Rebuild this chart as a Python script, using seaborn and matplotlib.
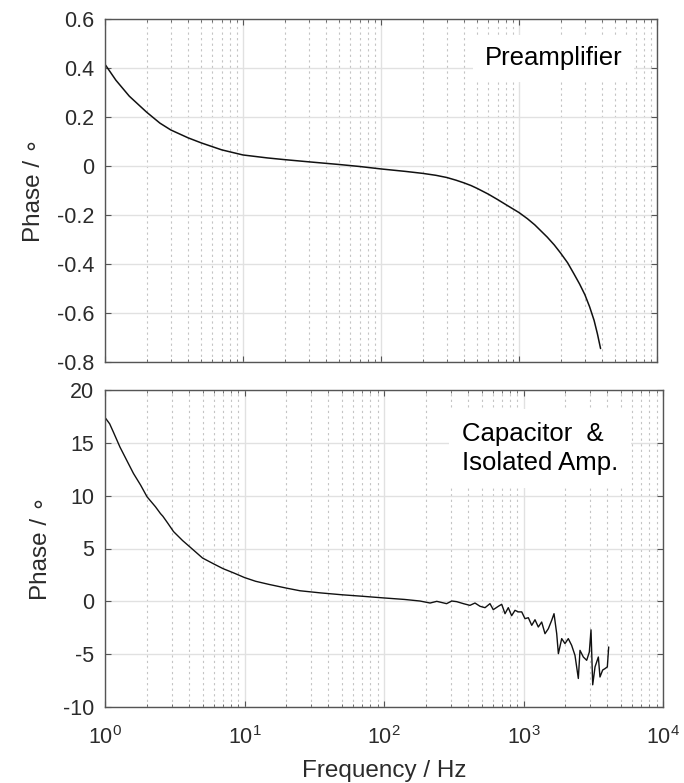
import numpy as np
import pandas as pd
import matplotlib
matplotlib.use("Agg")
import matplotlib.pyplot as plt
import matplotlib.ticker as mticker
import seaborn as sns

# ---- data ----
pre_freq = [1, 1.2, 1.5, 2, 2.5, 3, 4, 5, 7, 10, 15, 20, 30, 50, 70, 100, 150,
            200, 250, 300, 350, 400, 450, 500, 600, 700, 800, 1000, 1150, 1300,
            1600, 1800, 2000, 2250, 2500, 2750, 3000, 3250, 3500, 3700, 3900]
pre_phase = [0.415, 0.35, 0.285, 0.22, 0.175, 0.147, 0.115, 0.094, 0.066, 0.045,
             0.033, 0.026, 0.017, 0.006, -0.002, -0.012, -0.022, -0.03, -0.038,
             -0.047, -0.058, -0.069, -0.08, -0.092, -0.115, -0.137, -0.157, -0.19,
             -0.215, -0.24, -0.29, -0.322, -0.355, -0.395, -0.44, -0.482, -0.525,
             -0.575, -0.63, -0.685, -0.745]

cap_freq = [1.0, 1.08, 1.15, 1.28, 1.45, 1.6, 1.8, 2.0, 2.3, 2.5, 2.6, 2.8, 3.1,
            3.6, 4.1, 5, 6, 7, 8.5, 10, 12, 15, 20, 25, 35, 50, 70, 100, 140,
            181, 214, 239, 281, 306, 332, 371, 413, 449, 488, 530, 575, 607, 660,
            698, 737, 778, 822, 869, 918, 971, 1025, 1083, 1146, 1209, 1277, 1350,
            1426, 1507, 1592, 1655, 1730, 1778, 1879, 1983, 2094, 2213, 2339, 2472,
            2541, 2685, 2837, 2964, 3047, 3134, 3257, 3440, 3533, 3695, 3838, 3990,
            4080]
cap_phase = [17.4, 16.8, 16.0, 14.6, 13.2, 12.1, 11.0, 9.9, 8.95, 8.3, 8.05, 7.45,
             6.6, 5.75, 5.1, 4.1, 3.55, 3.1, 2.65, 2.25, 1.9, 1.6, 1.25, 1.0, 0.8,
             0.62, 0.48, 0.32, 0.18, 0.03, -0.16, 0.0, -0.22, 0.03, -0.03, -0.22,
             -0.38, -0.16, -0.47, -0.6, -0.22, -0.79, -0.47, -0.28, -1.17, -0.6,
             -1.36, -0.85, -1.0, -1.0, -1.64, -1.55, -2.27, -1.74, -2.43, -1.96,
             -3.06, -2.59, -1.8, -1.17, -3.06, -4.95, -3.53, -4.0, -3.53, -4.16,
             -5.11, -7.3, -4.64, -5.27, -5.58, -4.8, -2.7, -7.9, -6.2, -5.27,
             -7.16, -6.5, -6.37, -6.2, -4.32]

pre_yticks = [0.6, 0.4, 0.2, 0, -0.2, -0.4, -0.6, -0.8]
pre_yticklabels = ["0.6", "0.4", "0.2", "0", "-0.2", "-0.4", "-0.6", "-0.8"]
cap_yticks = [20, 15, 10, 5, 0, -5, -10]
cap_yticklabels = ["20", "15", "10", "5", "0", "-5", "-10"]

sns.set_theme(style="white")
plt.rcParams["font.family"] = ["Liberation Sans", "DejaVu Sans"]
plt.rcParams["mathtext.fontset"] = "custom"
plt.rcParams["mathtext.rm"] = "Liberation Sans"
plt.rcParams["mathtext.it"] = "Liberation Sans:italic"

fig = plt.figure(figsize=(6.84, 7.83), dpi=100)
ax1 = fig.add_axes([105/684, 1 - 362/783, 552/684, 343/783])
ax2 = fig.add_axes([105/684, 1 - 707/783, 558/684, 317/783])

df1 = pd.DataFrame({"f": pre_freq, "p": pre_phase})
df2 = pd.DataFrame({"f": cap_freq, "p": cap_phase})
sns.lineplot(data=df1, x="f", y="p", ax=ax1, color="#111111", lw=1.1,
             estimator=None, sort=False)
sns.lineplot(data=df2, x="f", y="p", ax=ax2, color="#111111", lw=1.0,
             estimator=None, sort=False)

tick_color = "#2b2b2b"
for ax, yt, ytl, ylim in [(ax1, pre_yticks, pre_yticklabels, (-0.8, 0.6)),
                          (ax2, cap_yticks, cap_yticklabels, (-10, 20))]:
    ax.set_xscale("log")
    ax.set_xlim(1, 1e4)
    ax.set_ylim(*ylim)
    ax.set_yticks(yt)
    ax.set_yticklabels(ytl)
    ax.xaxis.set_major_locator(mticker.LogLocator(base=10, numticks=10))
    ax.xaxis.set_minor_locator(mticker.LogLocator(base=10, subs=np.arange(2, 10), numticks=10))
    ax.xaxis.set_minor_formatter(mticker.NullFormatter())
    ax.grid(True, which="major", axis="both", color="#e1e1e1", lw=1.0, ls="-")
    ax.grid(True, which="minor", axis="x", color="#c4c4c4", lw=0.8, ls=(0, (2, 3)))
    ax.set_axisbelow(True)
    ax.tick_params(axis="both", which="both", direction="in", top=True, right=True,
                   bottom=True, left=True, colors="#555555", labelcolor=tick_color,
                   labelsize=15.5)
    ax.tick_params(axis="both", which="major", length=4, width=0.8)
    ax.tick_params(axis="y", which="major", pad=8)
    ax.tick_params(axis="x", which="minor", length=2.5, width=0.6)
    for s in ax.spines.values():
        s.set_color("#555555")
        s.set_linewidth(1.0)
    ax.set_ylabel("Phase / ∘", fontsize=17.5, color=tick_color, labelpad=8)
    ax.set_xlabel("")

ax1.tick_params(axis="x", which="both", labelbottom=False)
ax2.tick_params(axis="x", which="major", pad=14)
ax2.set_xlabel("Frequency / Hz", fontsize=17.5, color=tick_color, labelpad=8)

ax1.text(0.812, 0.885, "Preamplifier", transform=ax1.transAxes, ha="center",
         va="center", fontsize=18.5, color="black",
         bbox=dict(boxstyle="square,pad=0.45", fc="white", ec="none"))
ax2.text(0.64, 0.815, "Capacitor  &\nIsolated Amp.", transform=ax2.transAxes,
         ha="left", va="center", fontsize=18.5, color="black", linespacing=1.3,
         bbox=dict(boxstyle="square,pad=0.5", fc="white", ec="none"))

fig.savefig("out.png", dpi=100)
